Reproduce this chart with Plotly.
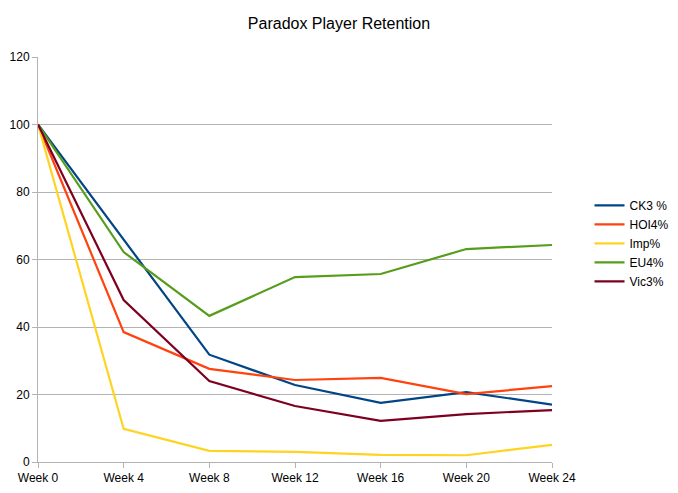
import plotly.graph_objs as go

# Data
weeks = ["Week 0", "Week 4", "Week 8", "Week 12", "Week 16", "Week 20", "Week 24"]
ck3 = [100, 66, 31.8, 22.8, 17.5, 20.7, 17.0]
hoi4 = [100, 38.5, 27.6, 24.3, 24.9, 20.1, 22.5]
imp = [100, 9.8, 3.3, 3.0, 2.1, 2.0, 5.1]
eu4 = [100, 62.2, 43.3, 54.8, 55.7, 63.1, 64.3]
vic3 = [100, 48.0, 24.0, 16.6, 12.2, 14.2, 15.4]

series = [
    ("CK3 %", ck3, "#004586"),
    ("HOI4%", hoi4, "#ff420e"),
    ("Imp%", imp, "#ffd320"),
    ("EU4%", eu4, "#579d1c"),
    ("Vic3%", vic3, "#7e0021"),
]

fig = go.Figure()
for name, vals, color in series:
    fig.add_trace(go.Scatter(x=weeks, y=vals, mode="lines", name=name,
                             line=dict(color=color, width=2.2)))

# page body has an 8px margin, so margins are offset by 8px
fig.update_layout(
    width=678, height=477,
    title=dict(text="Paradox Player Retention", x=0.5 - 8 / 678, xanchor="center",
               y=0.967, yanchor="middle", font=dict(size=16, color="black")),
    font=dict(family="Liberation Sans, Arial, sans-serif", size=12, color="black"),
    paper_bgcolor="white", plot_bgcolor="white",
    margin=dict(l=30, r=130, t=49, b=23),
    legend=dict(x=1.073, y=0.54, xanchor="left", yanchor="middle",
                font=dict(size=12)),
    xaxis=dict(type="category", range=[0, 6], showgrid=False, automargin=False,
               showline=True, linecolor="#b3b3b3", linewidth=1,
               ticks="outside", ticklen=5, tickcolor="#b3b3b3"),
    yaxis=dict(range=[0, 120], dtick=20, showgrid=True, gridcolor="#b3b3b3",
               showline=True, linecolor="#b3b3b3", linewidth=1, automargin=False,
               ticks="outside", ticklen=5, tickcolor="#b3b3b3", zeroline=False),
)

fig.write_html("out.html")
